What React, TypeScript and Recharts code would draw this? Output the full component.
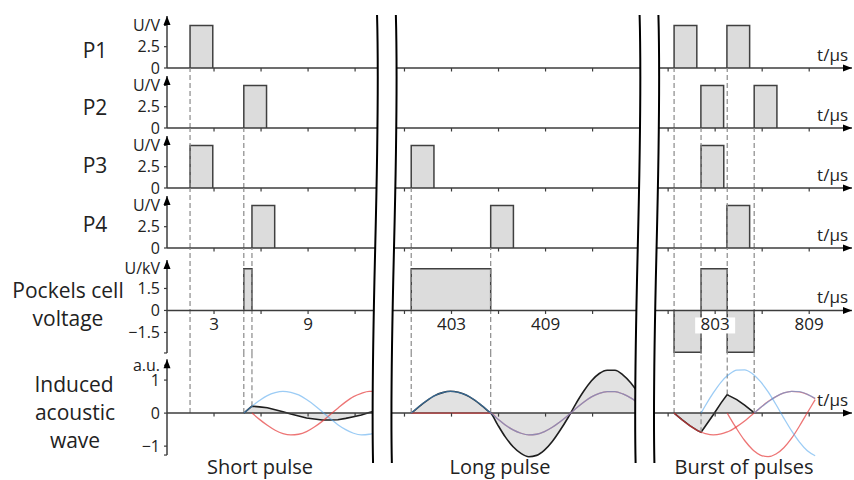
import React from 'react';
import {
  ComposedChart,
  Area,
  Line,
  XAxis,
  YAxis,
  ReferenceLine,
  ReferenceDot,
  ReferenceArea,
} from 'recharts';

const W = 854;
const FONT = '"Open Sans", "Noto Sans", sans-serif';
const INK = '#222222';
const AXIS = '#3c3c3c';
const GUIDE = '#8a8a8a';
const BOX_EDGE = '#404040';
const BOX_FILL = '#dcdcdc';
const WAVE_FILL = '#e2e2e2';
const BLUE = '#4aa3ec';
const RED = '#e53b3b';

// ---- time axis ---------------------------------------------------------
// three windows of the time axis (µs), cut by axis breaks
const WINDOW_STARTS = [0, 399, 799];
const WINDOW_OFFSETS = [0, 384.85, 768.03];
const X_MAX = 43.7;
const X_TICKS = [3, 6, 9, 12, 400, 403, 406, 409, 412, 800, 803, 806, 809];
const X_TICK_LABELS = [3, 9, 403, 409, 803, 809];
const BREAKS = [
  [13.4, 14.6],
  [30.15, 31.35],
];
const WINDOW_NAMES = ['Short pulse', 'Long pulse', 'Burst of pulses'];

function toDisplay(t: number) {
  let w = 0;
  WINDOW_STARTS.forEach((s, i) => {
    if (t >= s) w = i;
  });
  return t - WINDOW_OFFSETS[w];
}

// ---- trigger pulses P1..P4 (rise times, µs) -----------------------------
const PULSE_WIDTH = 1.45;
const PULSE_LEVEL = 5;
const P1_STARTS = [1.47, 800.38, 803.75];
const P2_STARTS = [4.9, 802.09, 805.49];
const P3_STARTS = [1.47, 400.43, 802.1];
const P4_STARTS = [5.42, 405.5, 803.75];
const ROW_NAMES = ['P1', 'P2', 'P3', 'P4'];

// ---- Pockels cell voltage (kV) ------------------------------------------
const POCKELS_START = [4.9, 400.43, 800.38, 802.1, 803.77];
const POCKELS_END = [5.42, 405.5, 802.1, 803.77, 805.49];
const POCKELS_KV = [2.85, 2.85, -2.85, 2.85, -2.85];

// ---- induced acoustic waves (a.u.) --------------------------------------
const SHORT_T = [4.9, 5.42, 5.9, 6.4, 6.9, 7.4, 7.9, 8.4, 8.9, 9.4, 9.9, 10.4, 10.9, 11.4, 11.9, 12.4, 12.9, 13.1];
const SHORT_BLUE = [0, 0.21, 0.38, 0.53, 0.62, 0.66, 0.63, 0.55, 0.41, 0.24, 0.04, -0.16, -0.35, -0.5, -0.61, -0.66, -0.64, -0.62];
const SHORT_RED = [null, 0, -0.19, -0.37, -0.52, -0.62, -0.66, -0.64, -0.56, -0.42, -0.25, -0.05, 0.15, 0.34, 0.5, 0.6, 0.66, 0.66];
const SHORT_SUM = [0, 0.21, 0.19, 0.16, 0.1, 0.04, -0.03, -0.09, -0.15, -0.18, -0.21, -0.21, -0.2, -0.16, -0.11, -0.06, 0.02, 0.04];

const LONG_T = [
  400.43, 400.93, 401.43, 401.93, 402.43, 402.93, 403.43, 403.93, 404.43, 404.93, 405.43, 405.51, 405.93, 406.43,
  406.93, 407.43, 407.93, 408.43, 408.93, 409.43, 409.93, 410.43, 410.93, 411.43, 411.93, 412.43, 412.93, 413.43,
  413.93, 414.43, 414.75,
];
const LONG_BLUE = [
  0, 0.2, 0.38, 0.53, 0.62, 0.66, 0.63, 0.55, 0.41, 0.23, 0.03, 0, -0.17, -0.36, -0.51, -0.61, -0.66, -0.64, -0.56,
  -0.43, -0.26, -0.07, 0.14, 0.33, 0.49, 0.6, 0.65, 0.65, 0.58, 0.46, 0.36,
];
const LONG_RED = [
  0, 0, 0, 0, 0, 0, 0, 0, 0, 0, 0, 0, -0.17, -0.36, -0.51, -0.61, -0.66, -0.64, -0.56, -0.43, -0.26, -0.07, 0.14, 0.33,
  0.49, 0.6, 0.65, 0.65, 0.58, 0.46, 0.36,
];
const LONG_SUM = [
  0, 0.2, 0.38, 0.53, 0.62, 0.66, 0.63, 0.55, 0.41, 0.23, 0.03, 0, -0.34, -0.72, -1.02, -1.22, -1.32, -1.28, -1.12,
  -0.86, -0.52, -0.14, 0.28, 0.66, 0.98, 1.2, 1.3, 1.3, 1.16, 0.92, 0.72,
];

const BURST_T = [
  800.38, 800.88, 801.38, 801.88, 802.1, 802.38, 802.88, 803.38, 803.77, 803.88, 804.38, 804.88, 805.38, 805.49,
  805.88, 806.38, 806.88, 807.38, 807.88, 808.38, 808.88, 809.38,
];
const BURST_RED_1 = [
  0, -0.2, -0.38, -0.53, -0.58, -0.62, -0.66, -0.63, -0.57, -0.55, -0.41, -0.24, -0.04, 0, 0.16, 0.35, 0.5, 0.61, 0.66,
  0.64, 0.57, 0.44,
];
const BURST_BLUE_1 = [
  null, null, null, null, 0, 0.23, 0.61, 0.94, 1.13, 1.17, 1.3, 1.31, 1.19, 1.15, 0.96, 0.64, 0.26, -0.15, -0.54,
  -0.88, -1.14, -1.29,
];
const BURST_RED_2 = [
  null, null, null, null, null, null, null, null, 0, -0.09, -0.48, -0.83, -1.1, -1.15, -1.27, -1.32, -1.24, -1.05,
  -0.76, -0.39, 0.01, 0.41,
];
const BURST_BLUE_2 = [
  null, null, null, null, null, null, null, null, null, null, null, null, null, 0, 0.16, 0.34, 0.5, 0.61, 0.66, 0.65,
  0.57, 0.45,
];
const BURST_SUM = [
  0, -0.2, -0.38, -0.53, -0.58, -0.39, -0.05, 0.31, 0.56, 0.53, 0.41, 0.24, 0.05, 0, null, null, null, null, null,
  null, null, null,
];

// dashed guides: time, row they drop from, wave value where they stop
const GUIDE_TIMES = [1.47, 4.9, 5.42, 400.43, 405.5, 800.38, 802.1, 803.77, 805.49];
const GUIDE_FROM_ROW = [0, 1, 3, 2, 3, 0, 1, 0, 1];
const GUIDE_WAVE_END = [0, 0, 0.21, 0, 0, 0, -0.58, 0.56, 0];

type Pt = { x: number; v: number | null };

function stepSeries(starts: number[], ends: number[], levels: number[]): Pt[] {
  const out: Pt[] = [];
  starts.forEach((s, i) => {
    const x0 = toDisplay(s);
    const x1 = toDisplay(ends[i]);
    out.push({ x: x0, v: 0 }, { x: x0, v: levels[i] }, { x: x1, v: levels[i] }, { x: x1, v: 0 });
    if (starts[i + 1] !== ends[i]) out.push({ x: x1, v: null });
  });
  return out;
}

const pulseSeries = (starts: number[]) =>
  stepSeries(
    starts,
    starts.map((s) => s + PULSE_WIDTH),
    starts.map(() => PULSE_LEVEL),
  );

const waveSeries = (times: number[], values: (number | null)[]): Pt[] =>
  times.map((t, i) => ({ x: toDisplay(t), v: values[i] }));

// ---- drawing helpers ----------------------------------------------------
const UpArrow = (p: any) => (
  <path d={`M${p.cx},${p.cy} L${p.cx - 3.5},${p.cy + 9} L${p.cx + 3.5},${p.cy + 9} Z`} fill="#000" />
);

const RightArrow = (p: any) => (
  <g>
    <path d={`M${p.cx},${p.cy} L${p.cx - 9},${p.cy - 3.5} L${p.cx - 9},${p.cy + 3.5} Z`} fill="#000" />
    <text x={p.cx - 4} y={p.cy - 7} textAnchor="end" fontSize={17} fontFamily={FONT} fill={INK}>
      t/µs
    </text>
  </g>
);

const xTick = (label: string | null) => (p: any) => (
  <g>
    <line x1={p.cx} y1={p.cy} x2={p.cx} y2={p.cy + 3.5} stroke={AXIS} strokeWidth={1.2} />
    {label !== null && (
      <g>
        <rect x={p.cx - label.length * 6 - 2} y={p.cy + 7} width={label.length * 12 + 4} height={16} fill="#fff" />
        <text x={p.cx} y={p.cy + 20} textAnchor="middle" fontSize={17} fontFamily={FONT} fill={INK}>
          {label}
        </text>
      </g>
    )}
  </g>
);

const BreakShape = (p: any) => {
  const { x, y, width: w, height: h } = p;
  const curve = (dx: number) =>
    `M${x + dx},${y} C${x + dx + 4},${y + 0.32 * h} ${x + dx - 7},${y + 0.68 * h} ${x + dx - 4},${y + h}`;
  const band =
    `${curve(0)} L${x + w - 4},${y + h} ` +
    `C${x + w - 7},${y + 0.68 * h} ${x + w + 4},${y + 0.32 * h} ${x + w},${y} Z`;
  return (
    <g>
      <path d={band} fill="#fff" />
      <path d={curve(0)} fill="none" stroke="#000" strokeWidth={2} />
      <path d={curve(w)} fill="none" stroke="#000" strokeWidth={2} />
    </g>
  );
};

type RowProps = {
  index: number;
  top: number;
  plotHeight: number;
  domain: [number, number];
  ticks: number[];
  tickText: string[];
  axisEnds: [number, number];
  wave?: boolean;
  tickLabels?: boolean;
  children?: React.ReactNode;
};

function Row({ index, top, plotHeight, domain, ticks, tickText, axisEnds, wave, tickLabels, children }: RowProps) {
  const pad = 26;
  const guides = GUIDE_TIMES.map((t, i) => ({
    x: toDisplay(t),
    from: GUIDE_FROM_ROW[i],
    end: GUIDE_WAVE_END[i],
  })).filter((g) => g.from < index);
  return (
    <div style={{ position: 'absolute', left: 0, top }}>
      <ComposedChart width={W} height={plotHeight + pad} margin={{ top: 0, right: 2, bottom: pad, left: 107 }}>
        <XAxis type="number" dataKey="x" domain={[0, X_MAX]} hide allowDataOverflow />
        <YAxis
          type="number"
          domain={domain}
          ticks={ticks}
          interval={0}
          allowDataOverflow
          width={60}
          axisLine={false}
          tickSize={3}
          tickMargin={4}
          tickLine={{ stroke: AXIS, strokeWidth: 1.2 }}
          tick={{ fill: INK, fontSize: 16, fontFamily: FONT }}
          tickFormatter={(v: number) => tickText[ticks.indexOf(v)] ?? ''}
        />
        {guides.map((g, i) => (
          <ReferenceLine
            key={`g${i}`}
            segment={[
              { x: g.x, y: wave ? g.end : domain[0] },
              { x: g.x, y: domain[1] },
            ]}
            stroke={GUIDE}
            strokeWidth={1.2}
            strokeDasharray="5 3"
          />
        ))}
        <ReferenceLine y={0} stroke={AXIS} strokeWidth={1.5} />
        {children}
        <ReferenceLine
          segment={[
            { x: 0, y: axisEnds[0] },
            { x: 0, y: axisEnds[1] },
          ]}
          stroke={AXIS}
          strokeWidth={1.5}
        />
        <ReferenceDot x={0} y={axisEnds[1]} shape={UpArrow} />
        <ReferenceDot x={X_MAX} y={0} shape={RightArrow} />
        {X_TICKS.map((t) => (
          <ReferenceDot
            key={`t${t}`}
            x={toDisplay(t)}
            y={0}
            shape={xTick(tickLabels && X_TICK_LABELS.includes(t) ? String(t) : null)}
          />
        ))}
      </ComposedChart>
    </div>
  );
}

const boxProps = {
  dataKey: 'v',
  type: 'linear' as const,
  stroke: BOX_EDGE,
  strokeWidth: 1.5,
  fill: BOX_FILL,
  fillOpacity: 1,
  dot: false,
  activeDot: false,
  isAnimationActive: false,
};

const sumProps = {
  dataKey: 'v',
  stroke: '#1e1e1e',
  strokeWidth: 1.6,
  fill: WAVE_FILL,
  fillOpacity: 1,
  dot: false,
  activeDot: false,
  isAnimationActive: false,
};

const lineProps = (color: string, opacity: number) => ({
  dataKey: 'v',
  type: 'monotone' as const,
  stroke: color,
  strokeOpacity: opacity,
  strokeWidth: 1.3,
  dot: false,
  activeDot: false,
  isAnimationActive: false,
});

function Caption({ x, y, size, children }: { x: number; y: number; size: number; children: React.ReactNode }) {
  return (
    <div
      style={{
        position: 'absolute',
        left: x,
        top: y,
        transform: 'translate(-50%, -50%)',
        fontFamily: FONT,
        fontSize: size,
        lineHeight: 1,
        color: INK,
        whiteSpace: 'nowrap',
      }}
    >
      {children}
    </div>
  );
}

const P_ROWS = [P1_STARTS, P2_STARTS, P3_STARTS, P4_STARTS];
const P_BASES = [68, 128, 188, 248];
const P_LABEL_Y = [49.5, 107, 164.5, 223.5];
const WINDOW_LABEL_X = [260, 500, 744];

export default function App() {
  return (
    <div
      style={{
        position: 'absolute',
        left: 0,
        top: 0,
        width: W,
        height: 480,
        overflow: 'hidden',
        background: '#fff',
      }}
    >
      {P_ROWS.map((starts, i) => (
        <Row
          key={ROW_NAMES[i]}
          index={i}
          top={P_BASES[i] - 60}
          plotHeight={60}
          domain={[0, 7.04]}
          ticks={[0, 2.5, 5]}
          tickText={['0', '2.5', 'U/V']}
          axisEnds={[0, 6.1]}
        >
          <Area data={pulseSeries(starts)} {...boxProps} />
        </Row>
      ))}

      <Row
        index={4}
        top={248}
        plotHeight={106}
        domain={[-2.97, 4.26]}
        ticks={[-2.9, -1.5, 0, 1.5, 2.9]}
        tickText={['', '−1.5', '0', '1.5', 'U/kV']}
        axisEnds={[-2.9, 3.44]}
        tickLabels
      >
        <Area data={stepSeries(POCKELS_START, POCKELS_END, POCKELS_KV)} {...boxProps} />
      </Row>

      <Row
        index={5}
        top={354}
        plotHeight={106}
        domain={[-1.42, 1.79]}
        ticks={[-1.27, -1, 0, 1, 1.45]}
        tickText={['', '−1', '0', '1', 'a.u.']}
        axisEnds={[-1.27, 1.63]}
        wave
      >
        <Area data={waveSeries(SHORT_T, SHORT_SUM)} type="linear" {...sumProps} />
        <Area data={waveSeries(LONG_T, LONG_SUM)} type="monotone" {...sumProps} />
        <Area data={waveSeries(BURST_T, BURST_SUM)} type="linear" {...sumProps} />
        <Line data={waveSeries(SHORT_T, SHORT_RED)} {...lineProps(RED, 0.7)} />
        <Line data={waveSeries(LONG_T, LONG_RED)} {...lineProps(RED, 0.7)} />
        <Line data={waveSeries(BURST_T, BURST_RED_1)} {...lineProps(RED, 0.7)} />
        <Line data={waveSeries(BURST_T, BURST_RED_2)} {...lineProps(RED, 0.7)} />
        <Line data={waveSeries(SHORT_T, SHORT_BLUE)} {...lineProps(BLUE, 0.55)} />
        <Line data={waveSeries(LONG_T, LONG_BLUE)} {...lineProps(BLUE, 0.55)} />
        <Line data={waveSeries(BURST_T, BURST_BLUE_1)} {...lineProps(BLUE, 0.55)} />
        <Line data={waveSeries(BURST_T, BURST_BLUE_2)} {...lineProps(BLUE, 0.55)} />
      </Row>

      {/* axis breaks between the three time windows */}
      <div style={{ position: 'absolute', left: 0, top: 15 }}>
        <ComposedChart width={W} height={448} margin={{ top: 0, right: 2, bottom: 0, left: 167 }}>
          <XAxis type="number" dataKey="x" domain={[0, X_MAX]} hide allowDataOverflow />
          <YAxis type="number" domain={[0, 1]} hide allowDataOverflow />
          {BREAKS.map((b, i) => (
            <ReferenceArea key={i} x1={b[0]} x2={b[1]} y1={0} y2={1} shape={BreakShape} ifOverflow="visible" />
          ))}
        </ComposedChart>
      </div>

      {ROW_NAMES.map((name, i) => (
        <Caption key={name} x={95} y={P_LABEL_Y[i]} size={21}>
          {name}
        </Caption>
      ))}
      <Caption x={68} y={290} size={21}>
        Pockels cell
      </Caption>
      <Caption x={68} y={318} size={21}>
        voltage
      </Caption>
      <Caption x={74} y={384} size={21}>
        Induced
      </Caption>
      <Caption x={75} y={412} size={21}>
        acoustic
      </Caption>
      <Caption x={75} y={440} size={21}>
        wave
      </Caption>
      {WINDOW_NAMES.map((name, i) => (
        <Caption key={name} x={WINDOW_LABEL_X[i]} y={467} size={20}>
          {name}
        </Caption>
      ))}
    </div>
  );
}
